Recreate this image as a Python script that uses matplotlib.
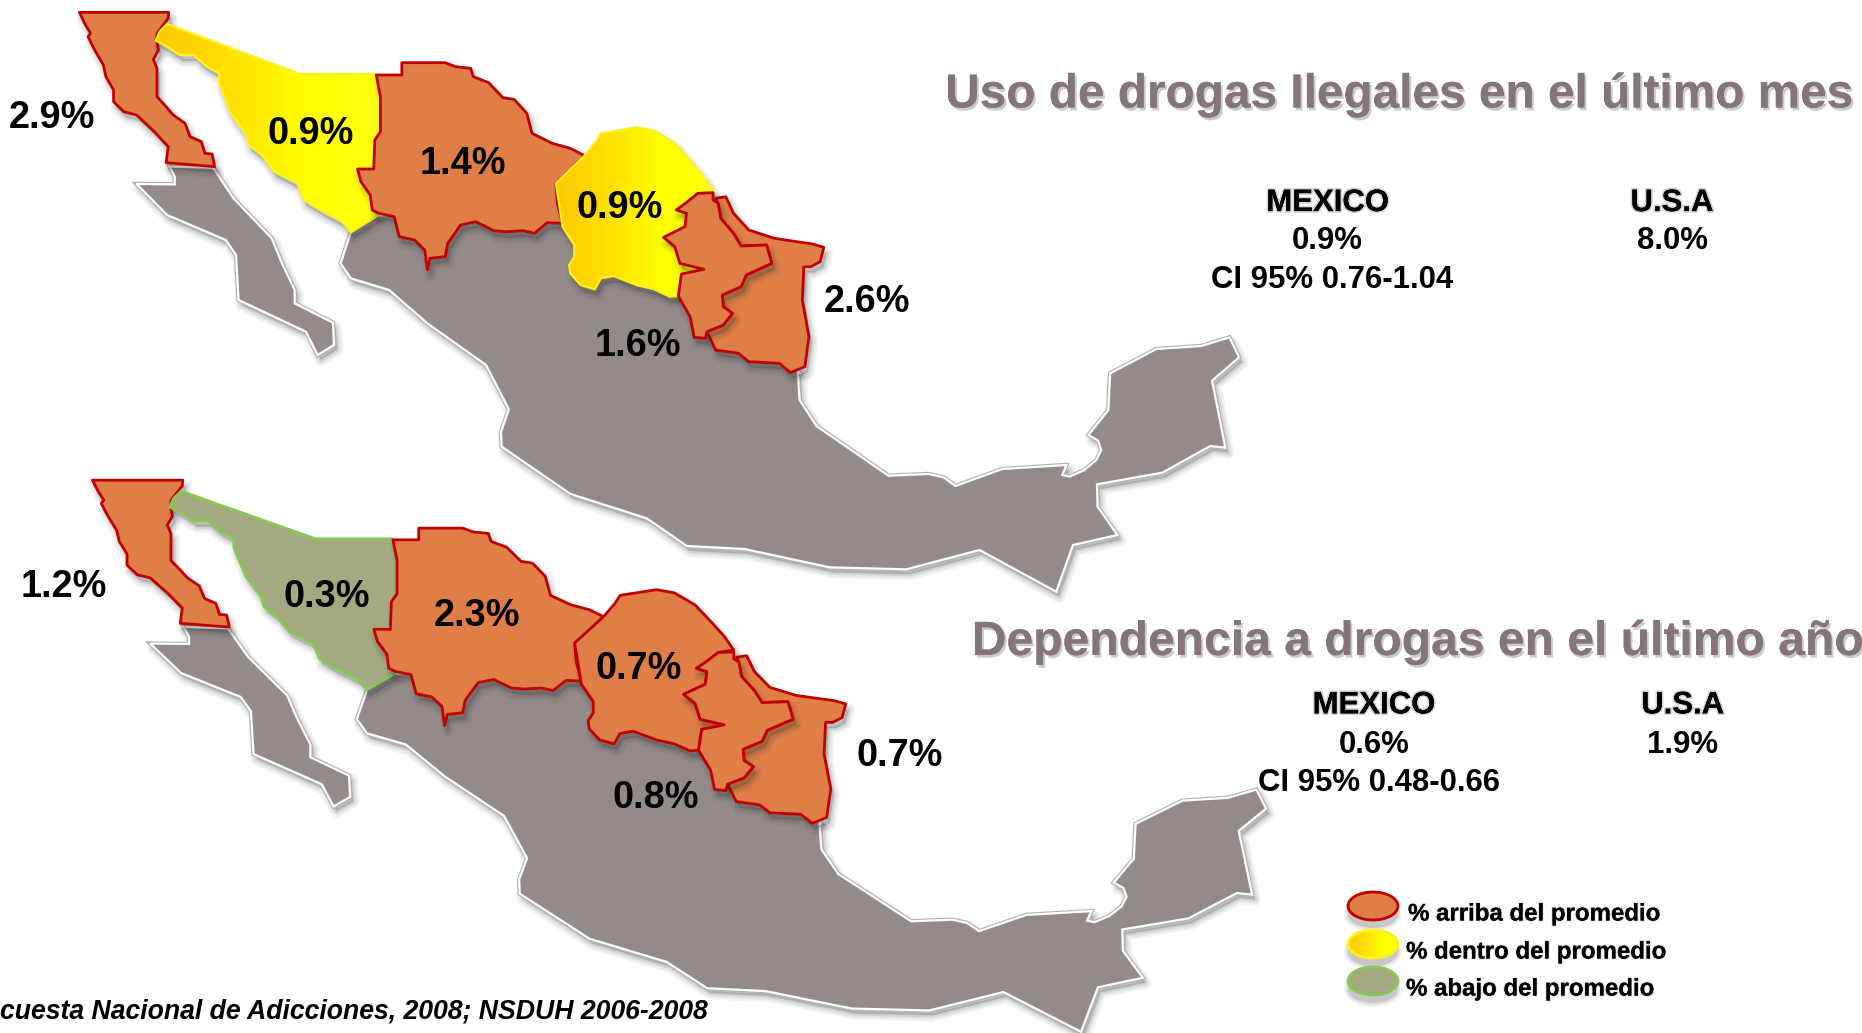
import numpy as np
import matplotlib
matplotlib.use("Agg")
import matplotlib.pyplot as plt
from matplotlib.patches import Polygon, Ellipse
from matplotlib.colors import LinearSegmentedColormap
import matplotlib.patheffects as pe

plt.rcParams['font.family'] = ['Liberation Sans', 'DejaVu Sans']

# ---- data ----
titles = ["Uso de drogas Ilegales en el último mes", "Dependencia a drogas en el último año"]
map1_values = ["2.9%", "0.9%", "1.4%", "0.9%", "1.6%", "2.6%"]
map2_values = ["1.2%", "0.3%", "2.3%", "0.7%", "0.8%", "0.7%"]
map1_classes = {"baja": "above", "sonora": "within", "chihuahua": "above",
                "coahuila": "within", "nuevoleon": "above", "tamaulipas": "above"}
map2_classes = {"baja": "above", "sonora": "below", "chihuahua": "above",
                "coahuila": "above", "nuevoleon": "above", "tamaulipas": "above"}
mexico_1 = ["MEXICO", "0.9%", "CI 95% 0.76-1.04"]
usa_1 = ["U.S.A", "8.0%"]
mexico_2 = ["MEXICO", "0.6%", "CI 95% 0.48-0.66"]
usa_2 = ["U.S.A", "1.9%"]
legend_labels = ["% arriba del promedio", "% dentro del promedio", "% abajo del promedio"]
source = "cuesta Nacional de Adicciones, 2008; NSDUH 2006-2008"

# ---- outlines, traced in the reference ----
baja = [(38,37),(213,37),(212,55),(190,100),(190,125),(193,150),(183,178),(190,205),(190,250),(190,290),(205,315),(222,345),(245,370),(255,410),(277,425),(284,460),(298,462),(303,500),(208,488),(212,440),(185,395),(150,345),(125,335),(105,305),(105,270),(90,230),(85,195),(68,150),(55,110),(60,100),(50,75)]
baja_sur = [(215,500),(300,503),(340,595),(415,715),(435,790),(460,870),(460,910),(535,968),(537,1035),(505,1065),(482,995),(350,900),(345,765),(325,720),(210,645),(150,552),(225,553),(225,530)]
sonora = [(210,72),(470,222),(618,222),(628,290),(628,395),(617,420),(615,507),(583,507),(590,545),(608,585),(612,630),(625,645),(570,697),(553,665),(510,630),(478,600),(465,550),(420,515),(395,465),(370,435),(365,405),(335,340),(312,250),(312,220),(285,197),(262,165),(235,165),(210,140),(188,122),(195,95)]
chihuahua = [(620,225),(670,225),(670,188),(755,188),(775,200),(805,205),(810,230),(840,248),(868,293),(890,298),(915,340),(925,400),(965,430),(1000,445),(1028,467),(1000,510),(972,550),(975,610),(985,670),(955,668),(930,700),(908,692),(875,695),(850,692),(815,665),(785,675),(760,730),(755,770),(725,775),(720,810),(715,750),(695,720),(665,710),(655,650),(625,640),(612,630),(608,585),(590,545),(583,507),(615,507),(617,420),(628,395),(628,290)]
coahuila = [(972,550),(1028,467),(1050,425),(1060,400),(1130,382),(1165,392),(1205,430),(1240,490),(1262,530),(1280,572),(1250,580),(1230,605),(1208,630),(1228,640),(1225,680),(1183,712),(1205,740),(1215,790),(1260,808),(1250,820),(1218,822),(1212,888),(1195,890),(1165,868),(1130,855),(1085,828),(1060,835),(1048,868),(1020,855),(1000,820),(998,795),(1008,770),(1008,735),(985,680)]
nuevoleon = [(1280,578),(1250,580),(1230,605),(1208,630),(1228,640),(1225,680),(1183,712),(1205,740),(1215,790),(1262,808),(1218,822),(1212,888),(1235,950),(1243,1012),(1265,1015),(1268,995),(1300,975),(1318,940),(1300,920),(1298,885),(1335,860),(1345,825),(1395,790),(1385,735),(1335,738),(1320,700),(1295,655),(1290,610),(1280,600)]
tamaulipas = [(1285,595),(1305,590),(1320,640),(1350,690),(1400,715),(1475,732),(1497,742),(1490,785),(1472,800),(1458,800),(1455,900),(1468,1010),(1460,1100),(1432,1118),(1410,1090),(1350,1085),(1330,1060),(1285,1050),(1268,995),(1300,975),(1318,940),(1300,920),(1298,885),(1335,860),(1345,825),(1395,790),(1385,735),(1335,738),(1320,700),(1295,655),(1290,610)]
main_west = [(570,697),(550,790),(570,835),(645,870),(720,970)]
main_south = [(277,135),(315,268),(302,335),(303,380),(418,522),(545,595),(612,678),(708,687),(850,742),(978,748),(1100,690),(1228,815),(1256,675),(1330,645),(1297,560),(1296,493),(1405,458),(1485,378),(1510,383),(1488,182),(1533,112),(1517,52),(1470,78),(1395,87),(1318,160),(1315,270),(1282,345),(1298,362),(1303,390),(1295,420),(1275,450),(1250,470),(1238,465),(1245,435),(1138,447),(1060,498),(1040,472),(1015,462),(948,467),(828,318),(800,240),(797,160)]
main_close = [(1450,1120),(1300,800),(1000,600),(600,650)]

S = 1862 / 1568

def z1(p):
    a = np.array(p, float)
    return np.c_[60 + a[:, 0] / 1.96, a[:, 1] / 3]

def z3(p):
    a = np.array(p, float)
    return np.c_[320 + a[:, 0] / 1.668, 320 + a[:, 1] / 3]

mainland = np.vstack([z1(main_west), z3(main_south), z1(main_close)])
states = {"baja": z1(baja), "sonora": z1(sonora), "chihuahua": z1(chihuahua),
          "coahuila": z1(coahuila), "tamaulipas": z1(tamaulipas), "nuevoleon": z1(nuevoleon)}

def second_map(a):
    o = np.array([67 * S, 10 * S])
    t = np.array([78 * S, 404 * S])
    return t + (a - o) * np.array([1.012, 0.952])

fig = plt.figure(figsize=(18.62, 10.33), dpi=100, facecolor='white')
ax = fig.add_axes([0, 0, 1, 1])
ax.set_axis_off()
W, H = 1862, 1033

STYLE = {"above": ("#DF7F47", "#C00000"),
         "within": (None, "#FFF21A"),
         "below": ("#A4A981", "#86C850")}
GRAD = LinearSegmentedColormap.from_list("g", ["#FFC800", "#FFE000", "#FFFF00", "#FFFF10"])

def soft_shadow(pts, dx, dy, z):
    for lw, al in ((9, 0.05), (6, 0.07), (3, 0.10)):
        ax.add_patch(Polygon(pts + np.array([dx, dy]), closed=True, fc='#303030', ec='#303030',
                             lw=lw, alpha=al, joinstyle='round', zorder=z))

def gray_land(pts, z):
    soft_shadow(pts, 3, 5, z)
    ax.add_patch(Polygon(pts, closed=True, fc='#958A8A', ec='#B5B0B0', lw=3.2, joinstyle='miter', zorder=z + 0.1))
    ax.add_patch(Polygon(pts, closed=True, fc='#958A8A', ec='white', lw=1.6, joinstyle='miter', zorder=z + 0.2))

def state(pts, kind, z):
    fc, ec = STYLE[kind]
    soft_shadow(pts, 3, 6, z)
    if kind == "within":
        p = Polygon(pts, closed=True, fc='none', ec='none', zorder=z + 0.1)
        ax.add_patch(p)
        x0, x1 = pts[:, 0].min(), pts[:, 0].max()
        y0, y1 = pts[:, 1].min(), pts[:, 1].max()
        im = ax.imshow(np.linspace(0, 1, 256)[None, :], cmap=GRAD, extent=(x0, x1, y1, y0),
                       aspect='auto', zorder=z + 0.1, interpolation='bilinear')
        im.set_clip_path(p)
        ax.add_patch(Polygon(pts, closed=True, fc='none', ec=ec, lw=1.6, zorder=z + 0.2))
    else:
        ax.add_patch(Polygon(pts, closed=True, fc=fc, ec=ec, lw=2.0, joinstyle='round', zorder=z + 0.2))

ORDER = ["baja", "sonora", "chihuahua", "coahuila", "tamaulipas", "nuevoleon"]

def draw_map(transform, classes, z):
    gray_land(transform(mainland), z)
    gray_land(transform(z1(baja_sur)), z)
    for i, name in enumerate(ORDER):
        state(transform(states[name]), classes[name], z + 1 + i)

draw_map(lambda a: a, map1_classes, 2)
draw_map(second_map, map2_classes, 12)

# ---- percent labels on the maps ----
pos1 = [(44, 99), (262, 113), (390, 138), (522, 175), (537, 291), (730, 254)]
pos2 = [(54, 494), (275, 503), (402, 519), (538, 563), (552, 672), (758, 637)]
for vals, pos in ((map1_values, pos1), (map2_values, pos2)):
    for v, (x, y) in zip(vals, pos):
        ax.text(x * S, y * S, v, fontsize=27.3, fontweight='bold', color='black',
                ha='center', va='center', zorder=30)

# ---- titles and summary blocks ----
title_fx = [pe.withSimplePatchShadow(offset=(1.5, -2), shadow_rgbFace='#999999', alpha=0.5), pe.Normal()]
ax.text(1178 * S, 80 * S, titles[0], fontsize=34.4, fontweight='bold', color='#85757A',
        ha='center', va='center', path_effects=title_fx, zorder=30)
ax.text(1194 * S, 541 * S, titles[1], fontsize=34.6, fontweight='bold', color='#85757A',
        ha='center', va='center', path_effects=title_fx, zorder=30)

head_fx = [pe.withStroke(linewidth=2.5, foreground='#BBBBBB', alpha=0.6), pe.Normal()]
blocks = [
    (mexico_1, [(1118, 171), (1118, 203), (1122, 236)]),
    (usa_1, [(1408, 171), (1408, 203)]),
    (mexico_2, [(1157, 594), (1157, 627), (1161, 659)]),
    (usa_2, [(1417, 594), (1417, 627)]),
]
for lines, pos in blocks:
    for i, (t, (x, y)) in enumerate(zip(lines, pos)):
        ax.text(x * S, y * S, t, fontsize=22.4, fontweight='bold', color='black', ha='center', va='center',
                path_effects=head_fx if i == 0 else None, zorder=30)

# ---- legend ----
leg_y = [906, 944, 981]
leg_tx = [1408, 1406, 1406]
leg_kind = ["above", "within", "below"]
for y, tx, kind, lab in zip(leg_y, leg_tx, leg_kind, legend_labels):
    for w, h, al in ((58, 36, 0.06), (54, 32, 0.09), (50, 28, 0.14)):
        ax.add_patch(Ellipse((1373, y + 8), w, h, fc='#303030', ec='none', alpha=al, zorder=25))
    fc, ec = STYLE[kind]
    if kind == "within":
        p = Ellipse((1373, y), 50, 28, fc='none', ec='none', zorder=26)
        ax.add_patch(p)
        im = ax.imshow(np.linspace(0, 1, 256)[None, :], cmap=GRAD, extent=(1348, 1398, y + 14, y - 14),
                       aspect='auto', zorder=26)
        im.set_clip_path(p)
        ax.add_patch(Ellipse((1373, y), 50, 28, fc='none', ec=ec, lw=2, zorder=27))
    else:
        ax.add_patch(Ellipse((1373, y), 50, 28, fc=fc, ec=ec, lw=2, zorder=27))
    ax.text(tx, y + 8, lab, fontsize=17.3, fontweight='bold', color='black', ha='left', va='center',
            path_effects=[pe.withStroke(linewidth=1.5, foreground='#CCCCCC', alpha=0.5), pe.Normal()], zorder=30)

# ---- source ----
ax.text(0, 852 * S, source, fontsize=19.2, fontweight='bold', fontstyle='italic', color='black',
        ha='left', va='center', zorder=30)

ax.set_xlim(0, W)
ax.set_ylim(H, 0)
fig.savefig("out.png", dpi=100, facecolor='white')
